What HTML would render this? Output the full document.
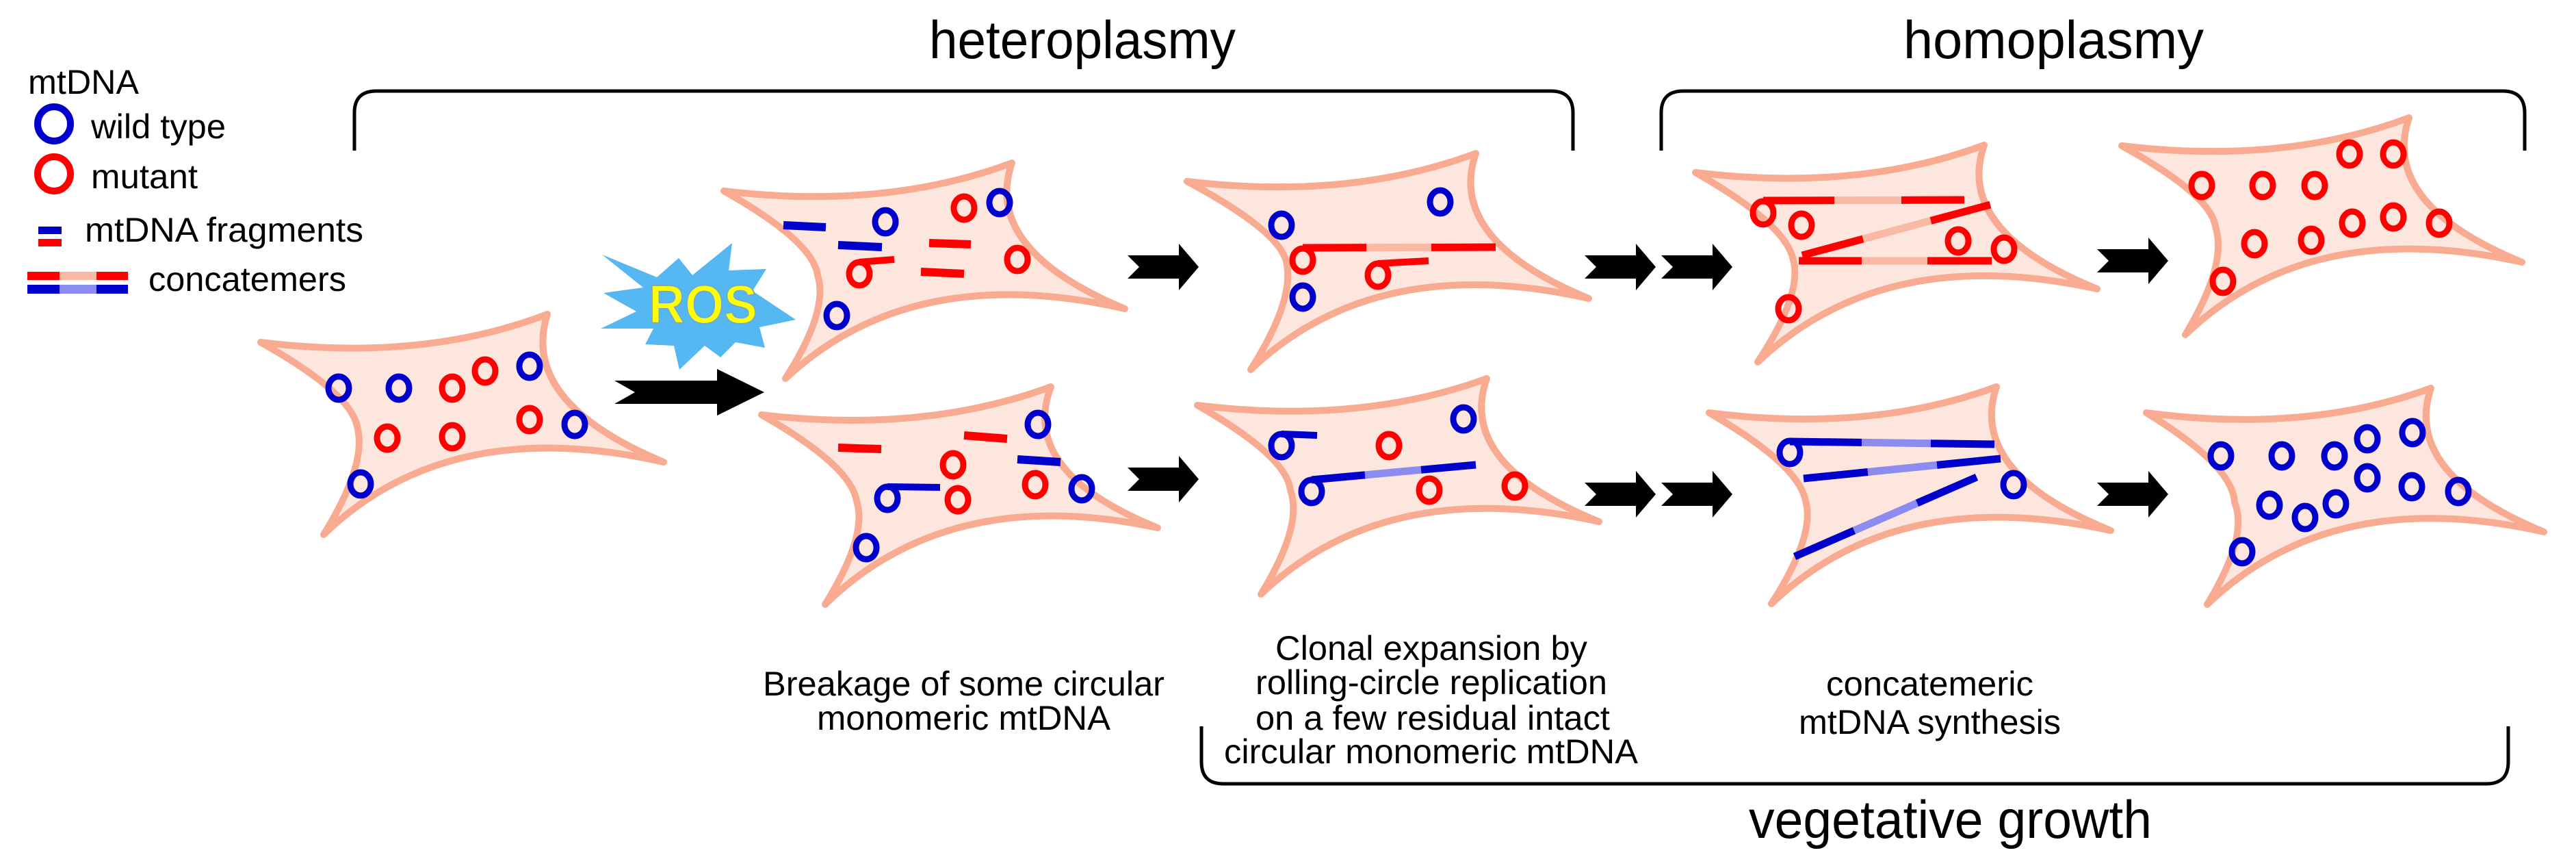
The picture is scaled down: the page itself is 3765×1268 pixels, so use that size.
<!DOCTYPE html>
<html><head><meta charset="utf-8"><style>
html,body{margin:0;padding:0;background:#fff;}
svg{display:block;}
text{font-family:"Liberation Sans",Arial,sans-serif;fill:#000;}
</style></head><body>
<svg id="s" xmlns="http://www.w3.org/2000/svg" width="3765" height="1268" viewBox="0 0 3765 1268">
<rect width="3765" height="1268" fill="#fff"/>
<g id="cells"></g>
<g id="stuff"></g>
<g fill="none" stroke="#000" stroke-width="5">
<path d="M518 220 L518 165 Q518 133 550 133 L2267 133 Q2299 133 2299 165 L2299 220"/>
<path d="M2428 220 L2428 165 Q2428 133 2460 133 L3658 133 Q3690 133 3690 165 L3690 220"/>
<path d="M1756 1061 L1756 1113 Q1756 1145 1788 1145 L3634 1145 Q3666 1145 3666 1113 L3666 1061"/>
</g>
<polygon fill="#55b8f2" points="880,372 960,405 992,377 1012,402 1070,355 1065,395 1120,393 1100,425 1163,467 1110,478 1118,508 1075,500 1053,522 1030,505 993,540 985,505 943,503 955,480 878,480 930,455 882,428 940,420"/>
<text x="948" y="472" font-size="80" font-weight="bold" textLength="159" lengthAdjust="spacingAndGlyphs" style="fill:#ffff00;stroke:#6fa8d8;stroke-width:2">ROS</text>
<text x="41" y="137" font-size="50" textLength="162" lengthAdjust="spacingAndGlyphs">mtDNA</text>
<ellipse cx="79" cy="181" rx="24" ry="25" fill="none" stroke="#0000cc" stroke-width="10"/>
<text x="133" y="202" font-size="50" textLength="197" lengthAdjust="spacingAndGlyphs">wild type</text>
<ellipse cx="79" cy="254" rx="24" ry="25" fill="none" stroke="#ff0000" stroke-width="10"/>
<text x="133" y="275" font-size="50" textLength="156" lengthAdjust="spacingAndGlyphs">mutant</text>
<rect x="56" y="331" width="34" height="11" fill="#0000cc"/>
<rect x="56" y="349" width="34" height="11" fill="#ff0000"/>
<text x="124" y="353" font-size="50" textLength="407" lengthAdjust="spacingAndGlyphs">mtDNA fragments</text>
<rect x="40" y="397" width="47" height="12" fill="#ff0000"/><rect x="87" y="397" width="54" height="12" fill="#f9b9a5"/><rect x="141" y="397" width="46" height="12" fill="#ff0000"/>
<rect x="40" y="416" width="47" height="13" fill="#0000cc"/><rect x="87" y="416" width="54" height="13" fill="#8c8cf0"/><rect x="141" y="416" width="46" height="13" fill="#0000cc"/>
<text x="217" y="425" font-size="50" textLength="289" lengthAdjust="spacingAndGlyphs">concatemers</text>
<text x="1358" y="85" font-size="78" textLength="448" lengthAdjust="spacingAndGlyphs">heteroplasmy</text>
<text x="2782" y="85" font-size="78" textLength="439" lengthAdjust="spacingAndGlyphs">homoplasmy</text>
<text x="2556" y="1224" font-size="78" textLength="589" lengthAdjust="spacingAndGlyphs">vegetative growth</text>
<text x="1115" y="1016" font-size="50" textLength="587" lengthAdjust="spacingAndGlyphs">Breakage of some circular</text>
<text x="1194" y="1066" font-size="50" textLength="429" lengthAdjust="spacingAndGlyphs">monomeric mtDNA</text>
<text x="1864" y="964" font-size="50" textLength="456" lengthAdjust="spacingAndGlyphs">Clonal expansion by</text>
<text x="1835" y="1014" font-size="50" textLength="514" lengthAdjust="spacingAndGlyphs">rolling-circle replication</text>
<text x="1835" y="1066" font-size="50" textLength="518" lengthAdjust="spacingAndGlyphs">on a few residual intact</text>
<text x="1789" y="1115" font-size="50" textLength="605" lengthAdjust="spacingAndGlyphs">circular monomeric mtDNA</text>
<text x="2669" y="1016" font-size="50" textLength="303" lengthAdjust="spacingAndGlyphs">concatemeric</text>
<text x="2629" y="1072" font-size="50" textLength="383" lengthAdjust="spacingAndGlyphs">mtDNA synthesis</text>
</svg>
<script>
(function(){
var NS="http://www.w3.org/2000/svg";
var cells=document.getElementById("cells"),st=document.getElementById("stuff");
function el(p,tag,a){var e=document.createElementNS(NS,tag);for(var k in a)e.setAttribute(k,a[k]);p.appendChild(e);return e;}
function q(P0,P2,c,k){var mx=(P0[0]+P2[0])/2,my=(P0[1]+P2[1])/2;return [mx+k*(c[0]-mx),my+k*(c[1]-my)];}
function cell(TL,TR,R,BL,N){
 var c=[(TL[0]+TR[0]+R[0]+BL[0])/4,(TL[1]+TR[1]+R[1]+BL[1])/4];
 var a=q(TL,TR,c,0.4),b=q(TR,R,c,0.55),d=q(R,BL,c,1.0),e=q(BL,N,c,0.25),f=q(N,TL,c,0.3);
 var s="M"+TL+" Q"+a+" "+TR+" Q"+b+" "+R+" Q"+d+" "+BL+" Q"+e+" "+N+" Q"+f+" "+TL+" Z";
 el(cells,"path",{d:s,fill:"#fde6de",stroke:"#f8ab90","stroke-width":10,"stroke-linejoin":"round"});
}
cell([381,500],[800,459],[970,675],[473,781],[522,623]);
cell([1058,279],[1479,238],[1644,451],[1148,553],[1195,402]);
cell([1735,265],[2157,224],[2322,436],[1828,540],[1880,382]);
cell([2478,252],[2900,212],[3065,422],[2569,529],[2621,380]);
cell([3101,213],[3521,172],[3686,383],[3194,489],[3238,331]);
cell([1113,606],[1536,565],[1692,771],[1206,883],[1252,732]);
cell([1750,592],[2173,553],[2337,762],[1843,868],[1886,716]);
cell([2498,603],[2918,565],[3085,775],[2589,882],[2639,732]);
cell([3137,603],[3553,567],[3718,777],[3226,883],[3266,734]);
var B="#0000cc",Rd="#ff0000",LB="#8c8cf0",LP="#f9b9a5";
function ring(x,y,col){el(st,"ellipse",{cx:x,cy:y,rx:15,ry:17,fill:"none",stroke:col,"stroke-width":9});}
function ln(x1,y1,x2,y2,col,w){el(st,"line",{x1:x1,y1:y1,x2:x2,y2:y2,stroke:col,"stroke-width":w||11});}
function conc(x1,y1,x2,y2,xa,xb,col,lc){var f=function(x){return y1+(y2-y1)*(x-x1)/(x2-x1);};
 ln(x1,y1,xa,f(xa),col);ln(xa,f(xa),xb,f(xb),lc);ln(xb,f(xb),x2,y2,col);}
function sig(x,y,x2,y2,col){ring(x,y,col);ln(x,y-17,x2,y2,col,10);}
[[495,567,B],[583,567,B],[661,567,Rd],[709,542,Rd],[774,535,B],[566,640,Rd],[661,638,Rd],[774,613,Rd],[840,620,B],[527,707,B]].forEach(function(r){ring(r[0],r[1],r[2]);});
ln(1145,329,1207,332,B,12);ring(1294,324,B);ln(1225,358,1289,361,B,12);sig(1256,400,1307,379,Rd);
ring(1409,304,Rd);ring(1461,296,B);ln(1358,355,1419,357,Rd,12);ln(1346,397,1409,400,Rd,12);ring(1487,379,Rd);ring(1223,461,B);
ln(1225,654,1288,656,Rd,12);ln(1409,636,1472,641,Rd,12);ring(1517,620,B);ring(1393,679,Rd);ln(1487,671,1550,675,B,12);
ring(1513,708,Rd);ring(1581,714,B);sig(1297,728,1374,712,B);ring(1400,730,Rd);ring(1266,800,B);
ring(1873,329,B);ring(2105,295,B);ring(1904,380,Rd);conc(1904,362,2186,361,1997,2092,Rd,LP);sig(2014,402,2088,381,Rd);ring(1904,434,B);
sig(1873,651,1925,636,B);ring(2030,651,Rd);ring(2139,612,B);ring(1917,718,B);conc(1917,701,2157,679,1995,2077,B,LB);ring(2089,716,Rd);ring(2214,710,Rd);
ring(2577,311,Rd);conc(2577,293,2871,292,2681,2779,Rd,LP);ring(2633,329,Rd);
conc(2634,373,2909,299,2723,2822,Rd,LP);conc(2629,381,2911,381,2721,2817,Rd,LP);
ring(2862,352,Rd);ring(2929,364,Rd);ring(2614,451,Rd);
ring(2616,661,B);conc(2616,645,2915,649,2721,2822,B,LB);conc(2636,699,2924,670,2730,2831,B,LB);conc(2623,813,2889,697,2710,2802,B,LB);ring(2943,708,B);
[[3218,271],[3307,271],[3383,271],[3434,225],[3498,225],[3295,356],[3378,351],[3438,326],[3498,317],[3565,326],[3249,411]].forEach(function(r){ring(r[0],r[1],Rd);});
[[3246,666],[3335,666],[3412,666],[3460,641],[3526,632],[3317,738],[3369,756],[3414,736],[3460,698],[3525,711],[3593,718],[3277,806]].forEach(function(r){ring(r[0],r[1],B);});
function arrow(x,cy,nd,bl,hl,b,h){
 var p=[[x,cy-b],[x+bl,cy-b],[x+bl,cy-h],[x+bl+hl,cy],[x+bl,cy+h],[x+bl,cy+b],[x,cy+b],[x+nd,cy]];
 el(st,"polygon",{points:p.join(" "),fill:"#000"});}
arrow(898,573,30,150,69,17,34);
[[1648,390],[2316,390],[2428,390],[3065,381],[1648,700],[2316,722],[2428,722],[3065,722]].forEach(function(a){arrow(a[0],a[1],17,75,29,17,34);});
})();
</script>
</body></html>
